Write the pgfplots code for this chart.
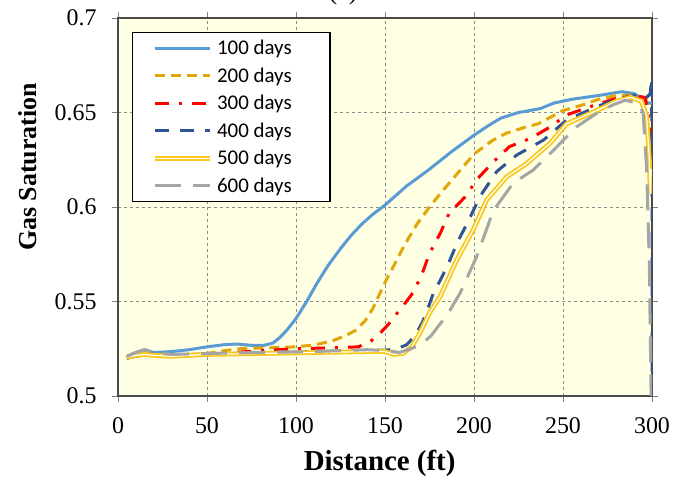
\documentclass[border=0pt]{standalone}
\usepackage{pgfplots}
\pgfplotsset{compat=1.18}
\usepackage{fontspec}
\setmainfont{Liberation Serif}
\newfontfamily\legfont{Carlito}

\definecolor{bgyellow}{HTML}{FFFFE3}
\definecolor{c100}{HTML}{5B9BD5}
\definecolor{c200}{HTML}{E0A60A}
\definecolor{c300}{HTML}{FF0000}
\definecolor{c400}{HTML}{2F5597}
\definecolor{c500}{HTML}{F7C81E}
\definecolor{c600}{HTML}{A5A5A5}
\definecolor{frame}{HTML}{4A4A4A}

\newcommand{\legpad}[1]{#1\hspace*{14bp}}

\begin{document}
\begin{tikzpicture}
\begin{axis}[
    scale only axis,
    width=534bp, height=378bp,
    xmin=0, xmax=300, ymin=0.5, ymax=0.7,
    xtick={0,50,...,300},
    ytick={0.5,0.55,0.6,0.65,0.7},
    yticklabels={0.5,0.55,0.6,0.65,0.7},
    tick align=outside,
    major tick length=6bp,
    tick style={gray, line width=0.8bp},
    axis line style={frame, line width=2.5bp},
    grid=major,
    major grid style={gray!90, dash pattern=on 3bp off 3bp, line width=0.6bp},
    axis background/.style={fill=bgyellow},
    ticklabel style={font=\fontsize{24}{26}\selectfont},
    xticklabel style={yshift=-12bp},
    yticklabel style={xshift=-12bp},
    /pgf/number format/assume math mode=true,
    xlabel={\textbf{Distance (ft)}},
    ylabel={\textbf{Gas Saturation}},
    xlabel style={font=\fontsize{29}{31}\selectfont, at={(axis description cs:0.49,-0.178)}, anchor=center},
    ylabel style={font=\fontsize{26}{28}\selectfont, at={(axis description cs:-0.17,0.606)}, anchor=center},
    legend style={at={(0,1)}, anchor=north west, xshift=14bp, yshift=-14bp,
        draw=black, line width=1.5bp, fill=white,
        font=\legfont\fontsize{21}{24}\selectfont,
        row sep=6.5bp, inner xsep=20bp, inner ysep=5bp,
        cells={anchor=west},
        nodes={inner ysep=2.5bp, inner xsep=4.5bp}},
    legend image code/.code={\draw[#1] (0bp,0bp) -- (55bp,0bp);},
    legend cell align=left,
]
\addplot[c100, line width=3bp] coordinates {
(5,0.521)(10,0.523)(15,0.5245)(20,0.523)(30,0.5235)(40,0.5245)(50,0.526)(60,0.5272)(67,0.5275)(75,0.5268)(82,0.5268)(87,0.528)(91,0.531)(95,0.535)(100,0.541)(106,0.550)(112,0.560)(118,0.569)(125,0.578)(131,0.585)(137,0.591)(143,0.596)(150,0.601)(162,0.611)(175,0.620)(187,0.629)(200,0.638)(208,0.643)(215,0.647)(225,0.650)(237,0.652)(245,0.655)(255,0.657)(270,0.659)(283,0.661)(290,0.660)(295,0.657)(298,0.655)(300,0.655)
};
\addlegendentry{\legpad{100 days}}
\addplot[c200, line width=3bp, dash pattern=on 10bp off 6bp] coordinates {
(5,0.520)(10,0.522)(15,0.523)(20,0.522)(30,0.5215)(50,0.5225)(60,0.524)(70,0.5252)(85,0.5255)(100,0.526)(110,0.527)(120,0.529)(128,0.532)(134,0.535)(139,0.540)(143,0.546)(147,0.554)(151,0.562)(155,0.569)(161,0.580)(168,0.591)(175,0.600)(181,0.607)(190,0.617)(200,0.628)(210,0.635)(218,0.639)(228,0.642)(236,0.644)(244,0.648)(250,0.651)(261,0.654)(270,0.657)(280,0.659)(290,0.659)(296,0.657)(300,0.656)
};
\addlegendentry{\legpad{200 days}}
\addplot[c300, line width=3bp, dash pattern=on 14bp off 10bp on 3bp off 10bp] coordinates {
(5,0.520)(10,0.5215)(15,0.5225)(20,0.522)(30,0.5215)(50,0.522)(65,0.523)(80,0.524)(100,0.525)(120,0.5255)(135,0.526)(142,0.529)(147,0.533)(152,0.538)(157,0.544)(162,0.550)(166,0.555)(171,0.565)(175,0.5755)(181,0.586)(186,0.5966)(196,0.6063)(201,0.614)(211,0.624)(220,0.632)(232,0.6364)(243,0.6425)(252,0.6487)(265,0.653)(278,0.657)(290,0.659)(296,0.658)(298,0.650)(299.5,0.630)
};
\addlegendentry{\legpad{300 days}}
\addplot[c400, line width=3bp, dash pattern=on 14bp off 11bp] coordinates {
(5,0.520)(10,0.521)(15,0.522)(20,0.5215)(30,0.521)(50,0.522)(80,0.523)(110,0.5235)(140,0.524)(155,0.5245)(162,0.527)(167,0.532)(171,0.539)(174,0.546)(177,0.554)(182,0.563)(186.5,0.572)(191,0.582)(196,0.591)(203.4,0.6056)(212.8,0.6188)(224,0.6275)(239,0.6354)(252,0.646)(268.9,0.653)(280,0.657)(290,0.659)(296,0.657)(299,0.660)(299.8,0.668)(300,0.60)(300,0.50)
};
\addlegendentry{\legpad{400 days}}
\addplot[c500, line width=1.8bp, double=white, double distance=1.2bp] coordinates {
(5,0.5205)(10,0.5215)(15,0.522)(20,0.5215)(30,0.521)(50,0.522)(80,0.5225)(110,0.523)(140,0.5235)(150,0.5235)(155,0.522)(160,0.5225)(165,0.526)(170,0.534)(175,0.544)(180.9,0.5525)(185,0.561)(190.3,0.572)(199.6,0.588)(207.1,0.6037)(218.4,0.616)(229.6,0.623)(242.7,0.6337)(252,0.644)(268.9,0.651)(280,0.656)(288,0.658)(294,0.656)(297,0.648)(298.5,0.625)(299,0.607)(299.5,0.62)
};
\addlegendentry{\legpad{500 days}}
\addplot[c600, line width=3bp, dash pattern=on 26bp off 12bp] coordinates {
(5,0.521)(10,0.523)(15,0.5245)(20,0.523)(30,0.522)(50,0.5225)(80,0.523)(110,0.5235)(140,0.5245)(152,0.524)(158,0.523)(163,0.5245)(170,0.527)(176,0.532)(180,0.537)(185,0.543)(192.1,0.5543)(201.5,0.5737)(210.8,0.598)(222,0.6126)(233.3,0.6196)(244.6,0.630)(257.7,0.6425)(268.9,0.6495)(278,0.654)(285,0.6565)(292,0.655)(295,0.65)(297,0.62)(298.5,0.57)(299.5,0.50)
};
\addlegendentry{\legpad{600 days}}
\end{axis}
\node[anchor=base, font=\fontsize{26}{28}\selectfont] at ([xshift=225bp, yshift=18.5bp]current axis.north west) {(a)};
\pgfresetboundingbox
\path[use as bounding box] ([xshift=-118bp, yshift=-89bp]current axis.south west) rectangle ([xshift=24bp, yshift=18bp]current axis.north east);
\end{tikzpicture}
\end{document}
